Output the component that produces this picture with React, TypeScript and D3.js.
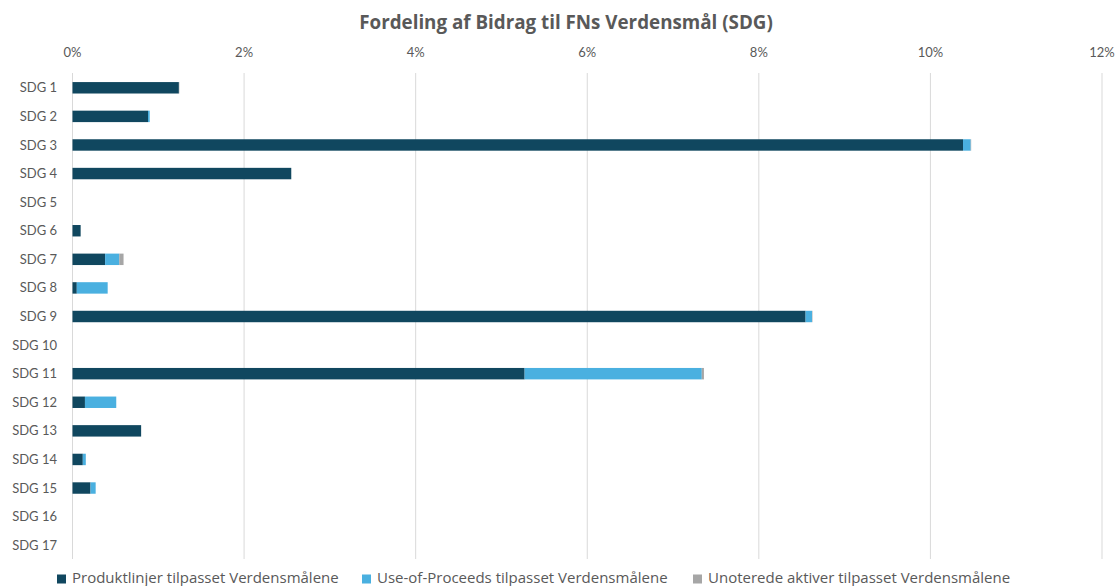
import React, { useEffect, useRef } from "react";
import * as d3 from "d3";

const categories = [
  "SDG 1", "SDG 2", "SDG 3", "SDG 4", "SDG 5", "SDG 6", "SDG 7", "SDG 8", "SDG 9",
  "SDG 10", "SDG 11", "SDG 12", "SDG 13", "SDG 14", "SDG 15", "SDG 16", "SDG 17",
];
// values in percent
const produktlinjer = [1.24, 0.88, 10.38, 2.55, 0, 0.095, 0.38, 0.05, 8.545, 0, 5.27, 0.145, 0.8, 0.12, 0.21, 0, 0];
const useOfProceeds = [0, 0.02, 0.09, 0, 0, 0, 0.165, 0.36, 0.075, 0, 2.065, 0.365, 0, 0.035, 0.06, 0, 0];
const unoterede = [0.005, 0, 0.005, 0, 0, 0, 0.05, 0, 0.005, 0, 0.025, 0, 0, 0, 0, 0, 0];

const seriesNames = [
  "Produktlinjer tilpasset Verdensmålene",
  "Use-of-Proceeds tilpasset Verdensmålene",
  "Unoterede aktiver tilpasset Verdensmålene",
];
const seriesColors = ["#10475f", "#4ab0e0", "#a6a6a6"];
const xTicks = [0, 2, 4, 6, 8, 10, 12];

const width = 1118;
const height = 586;
const font = "Lato, 'Open Sans', sans-serif";
const wideFont = "'Open Sans', Lato, sans-serif";

const App = () => {
  const ref = useRef<SVGSVGElement>(null);

  useEffect(() => {
    document.body.style.margin = "0";
    const svg = d3.select(ref.current);
    svg.selectAll("*").remove();

    const margin = { top: 73, right: 16, bottom: 27, left: 72.5 };
    const x = d3.scaleLinear().domain([0, 12]).range([margin.left, width - margin.right]);
    const y = d3
      .scaleBand()
      .domain(categories)
      .range([margin.top, height - margin.bottom])
      .paddingInner(0.6)
      .paddingOuter(0.3);

    svg
      .append("text")
      .attr("x", 566)
      .attr("y", 29)
      .attr("text-anchor", "middle")
      .attr("font-family", wideFont)
      .attr("font-weight", "bold")
      .attr("font-size", 18.8)
      .attr("fill", "#595959")
      .text("Fordeling af Bidrag til FNs Verdensmål (SDG)");

    // grid
    svg
      .append("g")
      .selectAll("line")
      .data(xTicks)
      .enter()
      .append("line")
      .attr("x1", (d) => x(d))
      .attr("x2", (d) => x(d))
      .attr("y1", margin.top)
      .attr("y2", height - margin.bottom)
      .attr("stroke", "#d9d9d9")
      .attr("stroke-width", 1);

    svg
      .append("g")
      .selectAll("text")
      .data(xTicks)
      .enter()
      .append("text")
      .attr("x", (d) => x(d))
      .attr("y", 57)
      .attr("text-anchor", "middle")
      .attr("font-family", font)
      .attr("font-size", 13)
      .attr("fill", "#595959")
      .text((d) => `${d}%`);

    svg
      .append("g")
      .selectAll("text")
      .data(categories)
      .enter()
      .append("text")
      .attr("x", 57)
      .attr("y", (d) => (y(d) as number) + y.bandwidth() / 2 + 0.5)
      .attr("dy", "0.35em")
      .attr("text-anchor", "end")
      .attr("font-family", font)
      .attr("font-size", 13)
      .attr("fill", "#595959")
      .text((d) => d);

    const rows = categories.map((c, i) => ({
      cat: c,
      s0: produktlinjer[i],
      s1: useOfProceeds[i],
      s2: unoterede[i],
    }));
    const stack = d3.stack<any>().keys(["s0", "s1", "s2"]);
    const layers = stack(rows);

    svg
      .append("g")
      .selectAll("g")
      .data(layers)
      .enter()
      .append("g")
      .attr("fill", (_, i) => seriesColors[i])
      .selectAll("rect")
      .data((d) => d)
      .enter()
      .append("rect")
      .attr("x", (d) => x(d[0]))
      .attr("y", (d) => (y(d.data.cat) as number) + 0.5)
      .attr("width", (d) => Math.max(0, x(d[1]) - x(d[0])))
      .attr("height", y.bandwidth());

    // legend
    const legendX = [57, 362, 693];
    const legend = svg
      .append("g")
      .selectAll("g")
      .data(seriesNames)
      .enter()
      .append("g")
      .attr("transform", (_, i) => `translate(${legendX[i]}, 577.5)`);
    legend
      .append("rect")
      .attr("x", 0)
      .attr("y", -3)
      .attr("width", 9)
      .attr("height", 9)
      .attr("fill", (_, i) => seriesColors[i]);
    legend
      .append("text")
      .attr("x", 15)
      .attr("y", 0)
      .attr("dy", "0.35em")
      .attr("font-family", wideFont)
      .attr("font-size", 15)
      .attr("fill", "#595959")
      .text((d) => d);
  }, []);

  return <svg ref={ref} width={width} height={height} style={{ display: "block", background: "#fff" }} />;
};

export default App;
